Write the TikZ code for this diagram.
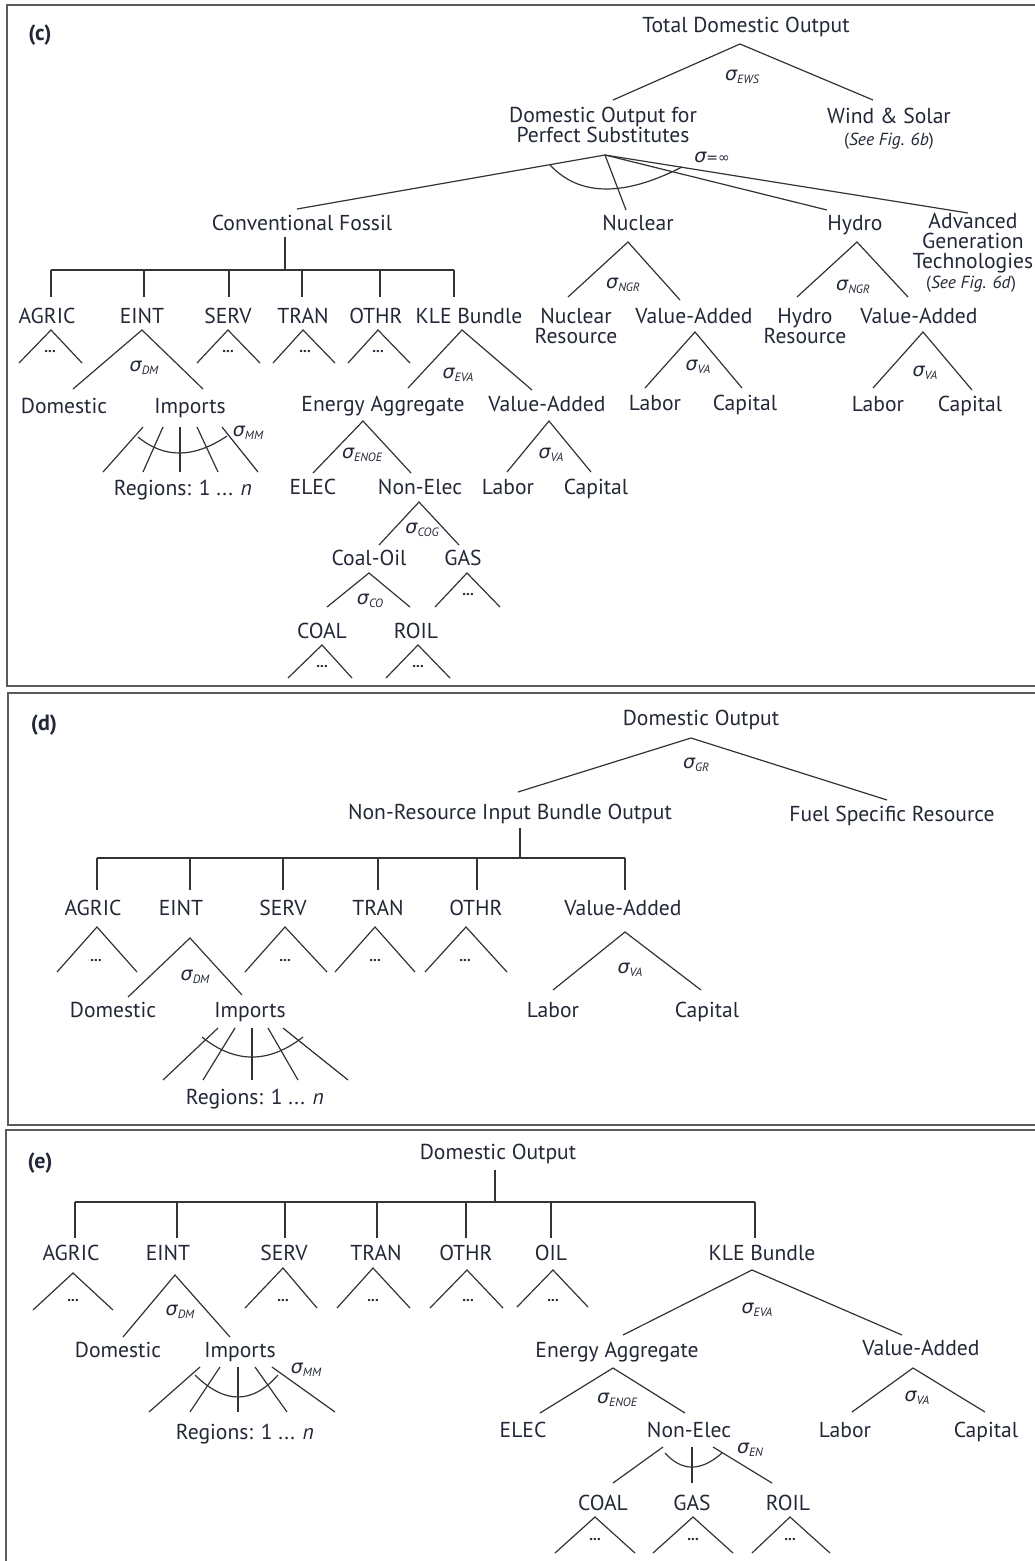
\documentclass[tikz,border=0pt]{standalone}
\usepackage{fontspec}
\setmainfont{PT Sans}
\newfontfamily\sgf{DejaVu Sans}
\definecolor{tc}{RGB}{35,40,55}
\definecolor{lc}{RGB}{50,50,55}
\definecolor{fcol}{RGB}{90,90,90}
\newcommand\sgm[1]{{\sgf\itshape σ}\raisebox{-0.35ex}{\fontsize{12}{12}\selectfont\itshape #1}}
\newcommand\tri[4]{\coordinate (#1-a) at (#2);\coordinate (#1-l) at (#3);\coordinate (#1-r) at (#4);\draw[ln] (#1-l) -- (#1-a) -- (#1-r);}
\newcommand\fan[2]{\foreach \tt/\bb [count=\ii] in {#2} {\coordinate (#1t\ii) at (\tt); \coordinate (#1b\ii) at (\bb); \draw[ln] (#1t\ii) -- (#1b\ii);}}
\newcommand\brk[6]{\coordinate (#1s) at (#2,#3); \coordinate (#1j) at (#2,#4); \draw[ln] (#1s) -- (#1j);
 \foreach \xx [count=\ii] in {#6} {\coordinate (#1b\ii) at (\xx,#4); \coordinate (#1d\ii) at (\xx,#5); \draw[ln] (#1b\ii) -- (#1d\ii);}}
\tikzset{
 lab/.style={text=tc,font=\fontsize{21.6}{20}\selectfont,inner sep=0pt,text height=15pt,text depth=0pt},
 labm/.style={text=tc,font=\fontsize{21.6}{20}\selectfont,inner sep=0pt,align=center},
 sig/.style={text=tc,font=\fontsize{19}{19}\selectfont,inner sep=0pt},
 dts/.style={text=tc,font=\fontsize{15}{15}\selectfont\bfseries,inner sep=0pt},
 see/.style={text=tc,font=\fontsize{17.5}{17.5}\selectfont,inner sep=0pt},
 ln/.style={draw=lc,line width=1.2pt},
 frm/.style={draw=fcol,line width=2pt},
 plab/.style={text=tc,font=\fontsize{22}{22}\selectfont\bfseries,inner sep=0pt}
}
\begin{document}
\begin{tikzpicture}[x=1pt,y=-1pt]
\useasboundingbox (0,0) rectangle (1035,1561);
% ================= panel (c)
\draw[frm] (7,5) rectangle (1050,686);
\node[plab] (pc) at (40,35) {(c)};
\node[lab] (tdo) at (746,25) {Total Domestic Output};
\tri{tdo}{740,44}{613,100}{873,100}
\node[sig] (sEWS) at (742,77) {\sgm{EWS}};
\node[labm] (dops) at (603,125) {Domestic Output for\\Perfect Substitutes};
\node[lab] (ws) at (889,116) {Wind \& Solar};
\node[see] (ws6b) at (889,141) {(\textit{See Fig. 6b})};
\coordinate (psA) at (605,155); \coordinate (psCF) at (297,209); \coordinate (psN) at (626,210);
\coordinate (psH) at (827,210); \coordinate (psAd) at (968,213);
\draw[ln] (psCF) -- (psA) -- (psN); \draw[ln] (psA) -- (psH); \draw[ln] (psA) -- (psAd);
\coordinate (arcL) at (550,165); \coordinate (arcC1) at (579.3,196.3); \coordinate (arcC2) at (623.3,197); \coordinate (arcR) at (682,167);
\draw[ln] (arcL) .. controls (arcC1) and (arcC2) .. (arcR);
\node[sig] (sInf) at (712,157) {{\sgf\itshape σ}{\sgf\itshape\fontsize{14}{14}\selectfont =∞}};
\node[lab] (cf) at (302,223) {Conventional Fossil};
\node[lab] (nuc) at (638,223) {Nuclear};
\node[lab] (hyd) at (855,223) {Hydro};
\node[labm] (adv) at (973,243) {Advanced\\Generation\\Technologies};
\node[see] (adv6d) at (971,284) {(\textit{See Fig. 6d})};
\brk{cb}{285}{237}{270}{297}{51,144,229,302,380,454}
\draw[ln] (cbb1) -- (cbb6);
\node[lab] (cAG) at (47,316) {AGRIC};
\node[lab] (cEI) at (142,316) {EINT};
\node[lab] (cSE) at (228,316) {SERV};
\node[lab] (cTR) at (303,316) {TRAN};
\node[lab] (cOT) at (376,316) {OTHR};
\node[lab] (cKL) at (469,316) {KLE Bundle};
\tri{cAg}{51,330}{19,363}{82,363}
\tri{cEi}{142,330}{73,389}{203,389}
\tri{cSe}{228,330}{197,363}{260,363}
\tri{cTr}{303,330}{273,363}{335,363}
\tri{cOt}{378,330}{348,363}{410,363}
\tri{cKl}{462,330}{408,388}{532,390}
\node[dts] (cd1) at (50,352) {...};
\node[dts] (cd2) at (228,352) {...};
\node[dts] (cd3) at (305,352) {...};
\node[dts] (cd4) at (378,352) {...};
\node[sig] (cDM) at (144,368) {\sgm{DM}};
\node[sig] (cEVA) at (458,375) {\sgm{EVA}};
\node[lab] (cDo) at (64,406) {Domestic};
\node[lab] (cIm) at (190,406) {Imports};
\node[lab] (cEA) at (383,404) {Energy Aggregate};
\node[lab] (cVA) at (547,404) {Value-Added};
\fan{cim}{{143,427}/{103,472},{163,427}/{143,472},{180,427}/{180,472},{197,427}/{218,472},{222,427}/{258,472}}
\coordinate (cimA) at (138,437); \coordinate (cimC1) at (164.3,458.7); \coordinate (cimC2) at (194,458.3); \coordinate (cimB) at (227,436);
\draw[ln] (cimA) .. controls (cimC1) and (cimC2) .. (cimB);
\node[sig] (cMM) at (248,433) {\sgm{MM}};
\node[lab] (cRg) at (183,488) {Regions: 1 ... \textit{n}};
\tri{cEa}{363,421}{313,473}{411,473}
\node[sig] (cENOE) at (362,455) {\sgm{ENOE}};
\tri{cVa}{549,421}{507,472}{591,472}
\node[sig] (cVAs) at (551,455) {\sgm{VA}};
\node[lab] (cEL) at (313,487) {ELEC};
\node[lab] (cNE) at (420,487) {Non-Elec};
\node[lab] (cLa) at (508,487) {Labor};
\node[lab] (cCa) at (596,487) {Capital};
\tri{cNe}{419,502}{379,545}{459,545}
\node[sig] (cCOG) at (422,530) {\sgm{COG}};
\node[lab] (cCO) at (369,558) {Coal-Oil};
\node[lab] (cGA) at (463,558) {GAS};
\tri{cCo}{369,573}{327,607}{410,607}
\node[sig] (cCOs) at (370,601) {\sgm{CO}};
\tri{cGa}{467,573}{435,607}{500,607}
\node[dts] (cd5) at (468,595) {...};
\node[lab] (cCL) at (322,631) {COAL};
\node[lab] (cRO) at (416,631) {ROIL};
\tri{cCl}{322,645}{288,678}{352,678}
\tri{cRo}{418,645}{386,678}{450,678}
\node[dts] (cd6) at (322,667) {...};
\node[dts] (cd7) at (418,667) {...};
% nuclear
\tri{cNu}{628,242}{568,297}{680,300}
\node[sig] (cNGR1) at (623,285) {\sgm{NGR}};
\node[labm] (cNR) at (576,326) {Nuclear\\Resource};
\node[lab] (cNV) at (694,316) {Value-Added};
\tri{cNv}{695,332}{645,388}{742,388}
\node[sig] (cNVs) at (698,367) {\sgm{VA}};
\node[lab] (cNL) at (655,403) {Labor};
\node[lab] (cNC) at (745,403) {Capital};
% hydro
\tri{cHy}{857,242}{797,297}{908,297}
\node[sig] (cNGR2) at (853,287) {\sgm{NGR}};
\node[labm] (cHR) at (805,326) {Hydro\\Resource};
\node[lab] (cHV) at (919,316) {Value-Added};
\tri{cHv}{923,332}{873,388}{972,390}
\node[sig] (cHVs) at (925,373) {\sgm{VA}};
\node[lab] (cHL) at (878,404) {Labor};
\node[lab] (cHC) at (970,404) {Capital};
% ================= panel (d)
\draw[frm] (8,693) rectangle (1050,1125);
\node[plab] (pd) at (44,725) {(d)};
\node[lab] (dDO) at (701,718) {Domestic Output};
\tri{dTo}{691,738}{518,792}{887,800}
\node[sig] (dGR) at (696,765) {\sgm{GR}};
\node[lab] (dNR) at (510,812) {Non-Resource Input Bundle Output};
\node[lab] (dFS) at (892,814) {Fuel Specific Resource};
\brk{db}{520}{828}{858}{890}{97,190,283,378,477,625}
\draw[ln] (dbb1) -- (dbb6);
\node[lab] (dAG) at (93,908) {AGRIC};
\node[lab] (dEI) at (181,908) {EINT};
\node[lab] (dSE) at (283,908) {SERV};
\node[lab] (dTR) at (378,908) {TRAN};
\node[lab] (dOT) at (476,908) {OTHR};
\node[lab] (dVA) at (623,908) {Value-Added};
\tri{dAg}{97,927}{57,972}{137,972}
\tri{dEi}{190,938}{128,997}{242,995}
\tri{dSe}{285,927}{245,972}{327,972}
\tri{dTr}{375,927}{335,972}{415,972}
\tri{dOt}{466,927}{425,972}{507,972}
\tri{dVa}{625,932}{553,990}{701,990}
\node[dts] (dd1) at (96,961) {...};
\node[dts] (dd2) at (285,961) {...};
\node[dts] (dd3) at (375,961) {...};
\node[dts] (dd4) at (465,961) {...};
\node[sig] (dDM) at (195,977) {\sgm{DM}};
\node[sig] (dVAs) at (630,970) {\sgm{VA}};
\node[lab] (dDo) at (113,1010) {Domestic};
\node[lab] (dIm) at (250,1010) {Imports};
\node[lab] (dLa) at (553,1010) {Labor};
\node[lab] (dCa) at (707,1010) {Capital};
\fan{dim}{{218,1028}/{163,1080},{235,1028}/{203,1080},{252,1028}/{252,1080},{268,1028}/{298,1080},{283,1028}/{348,1080}}
\coordinate (dimA) at (202,1037); \coordinate (dimC1) at (235,1063.7); \coordinate (dimC2) at (268.7,1063.7); \coordinate (dimB) at (303,1037);
\draw[ln] (dimA) .. controls (dimC1) and (dimC2) .. (dimB);
\node[lab] (dRg) at (255,1097) {Regions: 1 ... \textit{n}};
% ================= panel (e)
\draw[frm] (6,1130) rectangle (1050,1575);
\node[plab] (pe) at (40,1163) {(e)};
\node[lab] (eDO) at (498,1152) {Domestic Output};
\brk{eb}{495}{1170}{1202}{1238}{75,177,285,377,466,551,755}
\draw[ln] (ebb1) -- (ebb7);
\node[lab] (eAG) at (71,1253) {AGRIC};
\node[lab] (eEI) at (168,1253) {EINT};
\node[lab] (eSE) at (284,1253) {SERV};
\node[lab] (eTR) at (376,1253) {TRAN};
\node[lab] (eOT) at (466,1253) {OTHR};
\node[lab] (eOI) at (551,1253) {OIL};
\node[lab] (eKL) at (762,1253) {KLE Bundle};
\tri{eAg}{73,1273}{33,1310}{113,1310}
\tri{eEi}{175,1275}{123,1337}{230,1337}
\tri{eSe}{283,1268}{245,1308}{317,1308}
\tri{eTr}{373,1268}{337,1308}{410,1308}
\tri{eOt}{467,1270}{430,1308}{503,1308}
\tri{eOi}{553,1270}{517,1307}{588,1307}
\tri{eKl}{752,1270}{623,1335}{902,1335}
\node[dts] (ed1) at (73,1301) {...};
\node[dts] (ed2) at (283,1301) {...};
\node[dts] (ed3) at (373,1301) {...};
\node[dts] (ed4) at (468,1301) {...};
\node[dts] (ed5) at (553,1301) {...};
\node[sig] (eDM) at (180,1312) {\sgm{DM}};
\node[sig] (eEVA) at (757,1310) {\sgm{EVA}};
\node[lab] (eDo) at (118,1350) {Domestic};
\node[lab] (eIm) at (240,1350) {Imports};
\node[sig] (eMM) at (306,1370) {\sgm{MM}};
\fan{eim}{{200,1367}/{149,1412},{220,1367}/{190,1412},{238,1367}/{238,1412},{255,1367}/{287,1412},{272,1367}/{335,1412}}
\coordinate (eimA) at (195,1375); \coordinate (eimC1) at (224.7,1404.3); \coordinate (eimC2) at (252.3,1404.3); \coordinate (eimB) at (278,1375);
\draw[ln] (eimA) .. controls (eimC1) and (eimC2) .. (eimB);
\node[lab] (eRg) at (245,1432) {Regions: 1 ... \textit{n}};
\node[lab] (eEA) at (617,1350) {Energy Aggregate};
\node[lab] (eVA) at (921,1348) {Value-Added};
\tri{eEa}{613,1368}{540,1413}{685,1413}
\node[sig] (eENOE) at (617,1400) {\sgm{ENOE}};
\tri{eVa}{913,1368}{852,1412}{985,1412}
\node[sig] (eVAs) at (917,1398) {\sgm{VA}};
\node[lab] (eEL) at (523,1430) {ELEC};
\node[lab] (eNE) at (689,1430) {Non-Elec};
\node[lab] (eLa) at (845,1430) {Labor};
\node[lab] (eCa) at (986,1430) {Capital};
\fan{ene}{{663,1447}/{613,1483},{692,1447}/{692,1483},{713,1447}/{772,1483}}
\coordinate (eneA) at (665,1453); \coordinate (eneC1) at (682,1471.7); \coordinate (eneC2) at (701,1471.7); \coordinate (eneB) at (722,1453);
\draw[ln] (eneA) .. controls (eneC1) and (eneC2) .. (eneB);
\node[sig] (eEN) at (750,1450) {\sgm{EN}};
\node[lab] (eCL) at (603,1503) {COAL};
\node[lab] (eGA) at (692,1503) {GAS};
\node[lab] (eRO) at (788,1503) {ROIL};
\tri{eCl}{595,1517}{555,1553}{635,1553}
\tri{eGa}{693,1517}{653,1553}{733,1553}
\tri{eRo}{790,1517}{752,1553}{830,1553}
\node[dts] (ed6) at (595,1539) {...};
\node[dts] (ed7) at (693,1539) {...};
\node[dts] (ed8) at (790,1539) {...};
\end{tikzpicture}
\end{document}
